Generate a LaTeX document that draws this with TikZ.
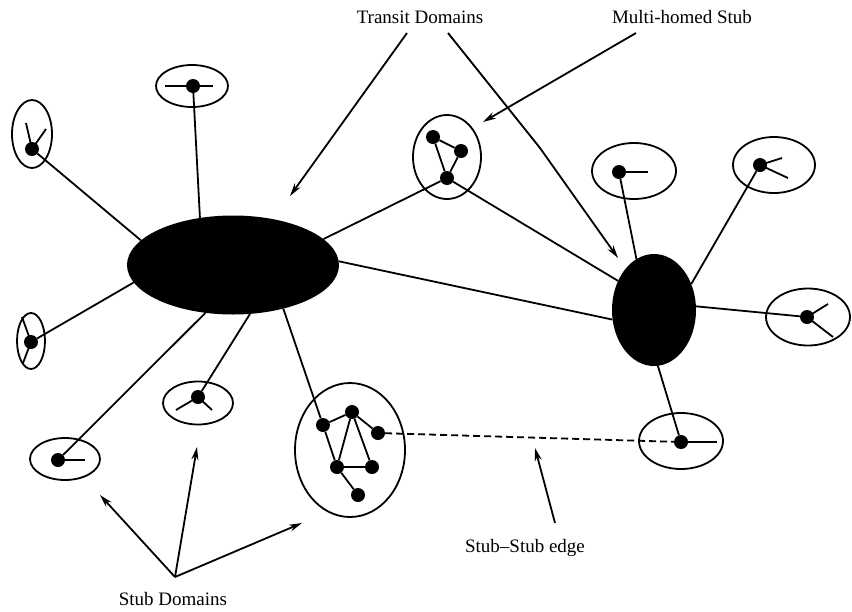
\documentclass[tikz,border=0pt]{standalone}
\usepackage{fontspec}
\setmainfont{Liberation Serif}
\usetikzlibrary{shapes.geometric,arrows.meta}
\begin{document}
\begin{tikzpicture}[x=1pt,y=-1pt,
  dom/.style={ellipse,draw,line width=1.8pt,inner sep=0pt},
  transit/.style={ellipse,fill=black,inner sep=0pt},
  dot/.style={circle,fill=black,inner sep=0pt,minimum size=14pt},
  lbl/.style={font=\fontsize{19}{21}\selectfont},
  arr/.style={line width=1.8pt,-{Stealth[length=13pt,width=7pt]}},
  link/.style={line width=1.8pt},
  dlink/.style={line width=1.8pt,dash pattern=on 7pt off 4pt},
]
\useasboundingbox (0,0) rectangle (852,611);

% transit domains
\node[transit,minimum width=212pt,minimum height=99pt] (T1) at (233,265) {};
\node[transit,minimum width=84pt,minimum height=112pt] (T2) at (654,310) {};

% stub domain outlines
\node[dom,minimum width=72pt,minimum height=42pt] (D1) at (192,86) {};
\node[dom,minimum width=40pt,minimum height=68pt] (D2) at (32,134) {};
\node[dom,minimum width=28pt,minimum height=56pt] (D3) at (31,341) {};
\node[dom,minimum width=70pt,minimum height=42pt] (D4) at (65,459) {};
\node[dom,minimum width=70pt,minimum height=43pt] (D5) at (198,403) {};
\node[dom,minimum width=110pt,minimum height=134pt] (D6) at (350,450) {};
\node[dom,minimum width=68pt,minimum height=84pt] (D7) at (447,157) {};
\node[dom,minimum width=84pt,minimum height=56pt] (D8) at (634,171) {};
\node[dom,minimum width=82pt,minimum height=56pt] (D9) at (774,165) {};
\node[dom,minimum width=84pt,minimum height=57pt] (D10) at (808,317) {};
\node[dom,minimum width=84pt,minimum height=56pt] (D11) at (681,441) {};

% stub nodes
\node[dot] (n1) at (193,86) {};
\node[dot] (n2) at (32,149) {};
\node[dot] (n3) at (31,342) {};
\node[dot] (n4) at (58,460) {};
\node[dot] (n5) at (198,397) {};
\node[dot] (a) at (323,425) {};
\node[dot] (b) at (352,412) {};
\node[dot] (c) at (378,433) {};
\node[dot] (d) at (337,467) {};
\node[dot] (e) at (372,467) {};
\node[dot] (f) at (358,495) {};
\node[dot] (g) at (433,137) {};
\node[dot] (h) at (461,151) {};
\node[dot] (i) at (447,178) {};
\node[dot] (n8) at (619,172) {};
\node[dot] (n9) at (760,165) {};
\node[dot] (n10) at (807,317) {};
\node[dot] (n11) at (681,442) {};

% spokes
\draw[link] (n1.center) -- ++(-28,0) (n1.center) -- ++(20,0);
\draw[link] (n2.center) -- ++(-6,-26) (n2.center) -- ++(14,-20);
\draw[link] (n3.center) -- ++(-9,-25) (n3.center) -- ++(-8,21);
\draw[link] (n4.center) -- ++(27,0);
\draw[link] (n5.center) -- ++(-22,13) (n5.center) -- ++(14,13);
\draw[link] (n8.center) -- ++(29,0);
\draw[link] (n9.center) -- ++(22,-7) (n9.center) -- ++(28,13);
\draw[link] (n10.center) -- ++(21,-13) (n10.center) -- ++(26,20);
\draw[link] (n11.center) -- ++(36,0);

% links to transit domains
\draw[link] (n1) -- (T1.125);
\draw[link] (n2) -- (T1.165);
\draw[link] (n3) -- (T1.190);
\draw[link] (n4) -- (T1.240);
\draw[link] (n5) -- (T1.289);
\draw[link] (a) -- (T1.319);
\draw[link] (i) -- (T1.16);
\draw[link] (T1.2) -- (T2.193);
\draw[link] (i) -- (T2.141);
\draw[link] (n8) -- (T2.109);
\draw[link] (n9) -- (T2.35);
\draw[link] (n10) -- (T2.5);
\draw[link] (n11) -- (T2.274);

% links inside stubs
\draw[link] (a) -- (b) -- (c);
\draw[link] (a) -- (d) -- (b) -- (e) -- (d) -- (f);
\draw[link] (g) -- (h) -- (i) -- (g);

% stub-stub edge
\draw[dlink] (c) -- (n11);

% labels
\node[lbl] (lt) at (420,17) {Transit Domains};
\node[lbl] (lm) at (682,17) {Multi-homed Stub};
\node[lbl] (ls) at (173,599) {Stub Domains};
\node[lbl] (le) at (525,548) {Stub–Stub edge};

% label arrows
\coordinate (t1s) at (407,33);
\coordinate (t1e) at (290,196);
\coordinate (t2s) at (448,33);
\coordinate (t2m) at (540,148);
\coordinate (t2e) at (618,258);
\coordinate (ms) at (636,33);
\coordinate (me) at (483,122);
\coordinate (sa) at (175,577);
\coordinate (se1) at (100,495);
\coordinate (se2) at (197,447);
\coordinate (se3) at (302,523);
\coordinate (ees) at (555,523);
\coordinate (eee) at (535,448);

\draw[arr] (t1s) -- (t1e);
\draw[arr] (t2s) -- (t2m) -- (t2e);
\draw[arr] (ms) -- (me);
\draw[arr] (sa) -- (se1);
\draw[arr] (sa) -- (se2);
\draw[arr] (sa) -- (se3);
\draw[arr] (ees) -- (eee);
\end{tikzpicture}
\end{document}
